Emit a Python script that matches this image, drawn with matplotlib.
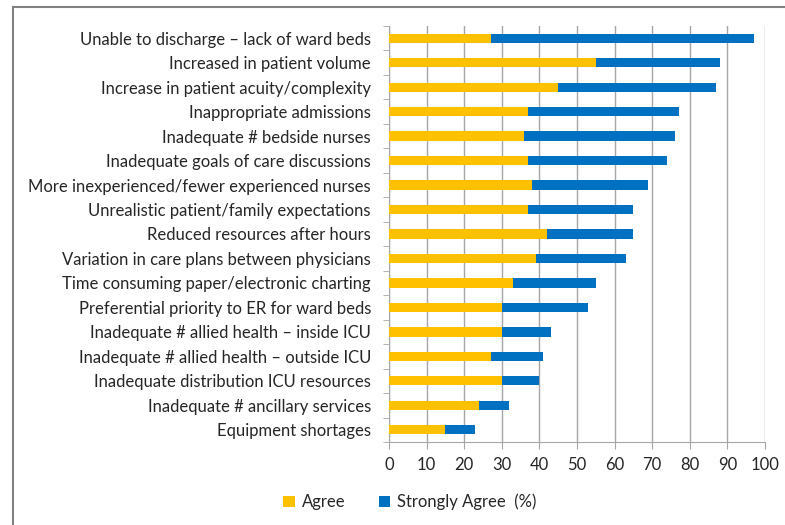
import numpy as np
import matplotlib.pyplot as plt
from matplotlib.lines import Line2D
from matplotlib.ticker import MultipleLocator

plt.rcParams['font.family'] = ['Lato', 'DejaVu Sans']

barriers = [
    'Unable to discharge \u2013 lack of ward beds',
    'Increased in patient volume',
    'Increase in patient acuity/complexity',
    'Inappropriate admissions',
    'Inadequate # bedside nurses',
    'Inadequate goals of care discussions',
    'More inexperienced/fewer experienced nurses',
    'Unrealistic patient/family expectations',
    'Reduced resources after hours',
    'Variation in care plans between physicians',
    'Time consuming paper/electronic charting',
    'Preferential priority to ER for ward beds',
    'Inadequate # allied health \u2013 inside ICU',
    'Inadequate # allied health \u2013 outside ICU',
    'Inadequate distribution ICU resources',
    'Inadequate # ancillary services',
    'Equipment shortages',
]
agree = [27, 55, 45, 37, 36, 37, 38, 37, 42, 39, 33, 30, 30, 27, 30, 24, 15]
strongly_agree = [70, 33, 42, 40, 40, 37, 31, 28, 23, 24, 22, 23, 13, 14, 10, 8, 8]

YELLOW = '#FFC000'
BLUE = '#0070C0'
GRID = '#A6A6A6'
TEXT = '#262626'
FS = 12

fig = plt.figure(figsize=(7.85, 5.25), dpi=100)
ax = fig.add_axes([389 / 785, 1 - 442 / 525, 376 / 785, 416 / 525])

y = np.arange(len(barriers))
ax.barh(y, agree, height=0.38, color=YELLOW, label='Agree', zorder=3)
ax.barh(y, strongly_agree, left=agree, height=0.38, color=BLUE,
        label='Strongly Agree  (%)', zorder=3)

ax.set_ylim(len(barriers) - 0.5, -0.5)
ax.set_yticks(y)
ax.set_yticklabels(barriers, fontsize=FS, color=TEXT)
ax.set_yticks(np.arange(len(barriers) + 1) - 0.5, minor=True)
ax.tick_params(axis='y', which='major', length=0, pad=13)
ax.tick_params(axis='y', which='minor', length=4, color=GRID)

ax.set_xlim(0, 100)
ax.xaxis.set_major_locator(MultipleLocator(10))
ax.tick_params(axis='x', length=5, color=GRID, labelsize=FS,
               labelcolor=TEXT, pad=6)
ax.grid(axis='x', color=GRID, linewidth=1, zorder=0)

for side in ['top', 'right']:
    ax.spines[side].set_visible(False)
for side in ['left', 'bottom']:
    ax.spines[side].set_color(GRID)

ax.legend(loc='center', bbox_to_anchor=(410 / 785, 1 - 502 / 525),
          bbox_transform=fig.transFigure, ncol=2, frameon=False,
          fontsize=FS, handlelength=0.7, handleheight=0.7,
          handletextpad=0.4, columnspacing=2.0, labelcolor=TEXT)

# outer frame around the figure
fig.add_artist(Line2D([13 / 785, 13 / 785], [0, 1 - 7 / 525],
                      transform=fig.transFigure, color='#808080', lw=1.5))
fig.add_artist(Line2D([13 / 785, 1], [1 - 7 / 525, 1 - 7 / 525],
                      transform=fig.transFigure, color='#808080', lw=1.5))

fig.savefig('out.png', dpi=100)
